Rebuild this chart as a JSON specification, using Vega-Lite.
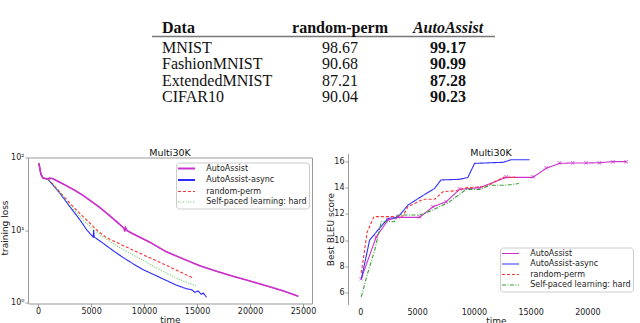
{
  "$schema": "https://vega.github.io/schema/vega-lite/v6.json",
  "padding": {"left": 0, "top": 19, "right": 0, "bottom": 0},
  "background": "white",
  "bounds": "flush",
  "spacing": 56.5,
  "resolve": {"scale": {"color": "independent", "strokeDash": "independent"}, "legend": {"color": "independent", "strokeDash": "independent"}},
  "config": {
    "view": {"stroke": null},
    "font": "DejaVu Sans",
    "axis": {"labelFont": "DejaVu Sans", "titleFont": "DejaVu Sans", "labelFontSize": 8, "titleFontSize": 9, "titleFontWeight": "normal", "labelColor": "#222", "titleColor": "#222", "domainColor": "#999", "tickColor": "#999", "grid": false, "tickSize": 3},
    "legend": {"labelFont": "DejaVu Sans", "labelFontSize": 8, "labelColor": "#222", "strokeColor": "#ccc", "fillColor": "white", "cornerRadius": 3, "padding": 2, "symbolType": "stroke", "symbolSize": 64, "symbolStrokeWidth": 1.2, "symbolOffset": 4.5, "rowPadding": 2.5, "labelOffset": 15.7, "labelLimit": 200},
    "title": {"font": "DejaVu Sans", "fontSize": 9.5, "fontWeight": "normal", "color": "#111"}
  },
  "datasets": {
    "header": [
      {"row": 0, "col": 0, "label": "Data"},
      {"row": 0, "col": 1, "label": "random-perm"},
      {"row": 0, "col": 2, "label": "AutoAssist"}
    ],
    "rows": [
      {"row": 1, "Data": "MNIST", "random-perm": 98.67, "AutoAssist": 99.17},
      {"row": 2, "Data": "FashionMNIST", "random-perm": 90.68, "AutoAssist": 90.99},
      {"row": 3, "Data": "ExtendedMNIST", "random-perm": 87.21, "AutoAssist": 87.28},
      {"row": 4, "Data": "CIFAR10", "random-perm": 90.04, "AutoAssist": 90.23}
    ]
  },
  "vconcat": [
    {
      "width": 467,
      "height": 66,
      "resolve": {"scale": {"y": "independent"}},
      "layer": [
        {
          "data": {"name": "header"},
          "transform": [{"filter": "datum.col == 0"}],
          "mark": {"type": "rule", "color": "#777", "strokeWidth": 1.3},
          "encoding": {
            "x": {"datum": -0.741, "type": "quantitative", "scale": {"domain": [-1.889, 2.435], "nice": false, "zero": false}, "axis": null},
            "x2": {"datum": 2.435},
            "y": {"field": "row", "type": "quantitative", "scale": {"domain": [-0.333, 3.667], "reverse": true, "nice": false, "zero": false}, "axis": null}
          }
        },
        {
          "data": {"name": "header"},
          "transform": [{"filter": "datum.col == 0"}],
          "mark": {"type": "text", "font": "Liberation Serif", "fontSize": 16, "fontWeight": "bold", "align": "left", "dx": -70, "dy": -3.5, "color": "#111"},
          "encoding": {"x": {"field": "col", "type": "quantitative"}, "y": {"field": "row", "type": "quantitative", "scale": {"domain": [0, 4], "reverse": true, "nice": false, "zero": false}, "axis": null}, "text": {"field": "label"}}
        },
        {
          "data": {"name": "header"},
          "transform": [{"filter": "datum.col == 1"}],
          "mark": {"type": "text", "font": "Liberation Serif", "fontSize": 16, "fontWeight": "bold", "align": "center", "dy": -3.5, "color": "#111"},
          "encoding": {"x": {"field": "col", "type": "quantitative"}, "y": {"field": "row", "type": "quantitative", "scale": {"domain": [0, 4], "reverse": true, "nice": false, "zero": false}, "axis": null}, "text": {"field": "label"}}
        },
        {
          "data": {"name": "header"},
          "transform": [{"filter": "datum.col == 2"}],
          "mark": {"type": "text", "font": "Liberation Serif", "fontSize": 16, "fontWeight": "bold", "fontStyle": "italic", "align": "center", "dy": -3.5, "color": "#111"},
          "encoding": {"x": {"field": "col", "type": "quantitative"}, "y": {"field": "row", "type": "quantitative", "scale": {"domain": [0, 4], "reverse": true, "nice": false, "zero": false}, "axis": null}, "text": {"field": "label"}}
        },
        {
          "data": {"name": "rows"},
          "mark": {"type": "text", "font": "Liberation Serif", "fontSize": 16, "align": "left", "dx": -70, "color": "#111"},
          "encoding": {"x": {"datum": 0, "type": "quantitative"}, "y": {"field": "row", "type": "quantitative", "scale": {"domain": [0, 4], "reverse": true, "nice": false, "zero": false}, "axis": null}, "text": {"field": "Data"}}
        },
        {
          "data": {"name": "rows"},
          "mark": {"type": "text", "font": "Liberation Serif", "fontSize": 16, "align": "center", "color": "#111"},
          "encoding": {"x": {"datum": 1, "type": "quantitative"}, "y": {"field": "row", "type": "quantitative", "scale": {"domain": [0, 4], "reverse": true, "nice": false, "zero": false}, "axis": null}, "text": {"field": "random-perm", "format": ".2f"}}
        },
        {
          "data": {"name": "rows"},
          "mark": {"type": "text", "font": "Liberation Serif", "fontSize": 16, "fontWeight": "bold", "align": "center", "color": "#111"},
          "encoding": {"x": {"datum": 2, "type": "quantitative"}, "y": {"field": "row", "type": "quantitative", "scale": {"domain": [0, 4], "reverse": true, "nice": false, "zero": false}, "axis": null}, "text": {"field": "AutoAssist", "format": ".2f"}}
        }
      ]
    },
    {
      "hconcat": [
        {
          "width": 284,
          "height": 150,
          "title": {"text": "Multi30K", "offset": 0, "dy": 4},
          "data": {"values": [
            {"series": "AutoAssist", "time": 80, "loss": 83},
            {"series": "AutoAssist", "time": 270, "loss": 59},
            {"series": "AutoAssist", "time": 460, "loss": 52},
            {"series": "AutoAssist", "time": 930, "loss": 50.5},
            {"series": "AutoAssist", "time": 1100, "loss": 52},
            {"series": "AutoAssist", "time": 1400, "loss": 51},
            {"series": "AutoAssist", "time": 2000, "loss": 46},
            {"series": "AutoAssist", "time": 2660, "loss": 41},
            {"series": "AutoAssist", "time": 3500, "loss": 35},
            {"series": "AutoAssist", "time": 4240, "loss": 30},
            {"series": "AutoAssist", "time": 5000, "loss": 25},
            {"series": "AutoAssist", "time": 5810, "loss": 20.5},
            {"series": "AutoAssist", "time": 6700, "loss": 16},
            {"series": "AutoAssist", "time": 7700, "loss": 12},
            {"series": "AutoAssist", "time": 8100, "loss": 10.6},
            {"series": "AutoAssist", "time": 8180, "loss": 9.6},
            {"series": "AutoAssist", "time": 8250, "loss": 10.8},
            {"series": "AutoAssist", "time": 8400, "loss": 9.8},
            {"series": "AutoAssist", "time": 9000, "loss": 8.8},
            {"series": "AutoAssist", "time": 10540, "loss": 6.8},
            {"series": "AutoAssist", "time": 12115, "loss": 5.0},
            {"series": "AutoAssist", "time": 13690, "loss": 4.0},
            {"series": "AutoAssist", "time": 15265, "loss": 3.21},
            {"series": "AutoAssist", "time": 16840, "loss": 2.7},
            {"series": "AutoAssist", "time": 18400, "loss": 2.3},
            {"series": "AutoAssist", "time": 20000, "loss": 1.98},
            {"series": "AutoAssist", "time": 21530, "loss": 1.7},
            {"series": "AutoAssist", "time": 23100, "loss": 1.45},
            {"series": "AutoAssist", "time": 24560, "loss": 1.22},
            {"series": "AutoAssist-async", "time": 80, "loss": 83},
            {"series": "AutoAssist-async", "time": 270, "loss": 59},
            {"series": "AutoAssist-async", "time": 460, "loss": 52},
            {"series": "AutoAssist-async", "time": 930, "loss": 50},
            {"series": "AutoAssist-async", "time": 2000, "loss": 33},
            {"series": "AutoAssist-async", "time": 3000, "loss": 21},
            {"series": "AutoAssist-async", "time": 4000, "loss": 13.5},
            {"series": "AutoAssist-async", "time": 4600, "loss": 10},
            {"series": "AutoAssist-async", "time": 5200, "loss": 8.0},
            {"series": "AutoAssist-async", "time": 5250, "loss": 10},
            {"series": "AutoAssist-async", "time": 5300, "loss": 8.0},
            {"series": "AutoAssist-async", "time": 6000, "loss": 6.8},
            {"series": "AutoAssist-async", "time": 7000, "loss": 5.3},
            {"series": "AutoAssist-async", "time": 8000, "loss": 4.2},
            {"series": "AutoAssist-async", "time": 9000, "loss": 3.4},
            {"series": "AutoAssist-async", "time": 10000, "loss": 2.8},
            {"series": "AutoAssist-async", "time": 11000, "loss": 2.4},
            {"series": "AutoAssist-async", "time": 12000, "loss": 2.05},
            {"series": "AutoAssist-async", "time": 13000, "loss": 1.75},
            {"series": "AutoAssist-async", "time": 14000, "loss": 1.55},
            {"series": "AutoAssist-async", "time": 14500, "loss": 1.5},
            {"series": "AutoAssist-async", "time": 14800, "loss": 1.38},
            {"series": "AutoAssist-async", "time": 15100, "loss": 1.45},
            {"series": "AutoAssist-async", "time": 15400, "loss": 1.3},
            {"series": "AutoAssist-async", "time": 15600, "loss": 1.35},
            {"series": "AutoAssist-async", "time": 15900, "loss": 1.18},
            {"series": "random-perm", "time": 80, "loss": 83},
            {"series": "random-perm", "time": 270, "loss": 59},
            {"series": "random-perm", "time": 460, "loss": 52},
            {"series": "random-perm", "time": 1000, "loss": 50},
            {"series": "random-perm", "time": 2000, "loss": 34},
            {"series": "random-perm", "time": 3000, "loss": 23.4},
            {"series": "random-perm", "time": 4000, "loss": 16.6},
            {"series": "random-perm", "time": 5000, "loss": 12},
            {"series": "random-perm", "time": 5600, "loss": 9.77},
            {"series": "random-perm", "time": 6500, "loss": 7.76},
            {"series": "random-perm", "time": 7700, "loss": 6.45},
            {"series": "random-perm", "time": 9000, "loss": 5.25},
            {"series": "random-perm", "time": 10500, "loss": 4.17},
            {"series": "random-perm", "time": 12000, "loss": 3.31},
            {"series": "random-perm", "time": 13300, "loss": 2.69},
            {"series": "random-perm", "time": 14600, "loss": 2.19},
            {"series": "Self-paced learning: hard", "time": 80, "loss": 83},
            {"series": "Self-paced learning: hard", "time": 270, "loss": 59},
            {"series": "Self-paced learning: hard", "time": 460, "loss": 52},
            {"series": "Self-paced learning: hard", "time": 1000, "loss": 50},
            {"series": "Self-paced learning: hard", "time": 2000, "loss": 34},
            {"series": "Self-paced learning: hard", "time": 3000, "loss": 22},
            {"series": "Self-paced learning: hard", "time": 4000, "loss": 15},
            {"series": "Self-paced learning: hard", "time": 5000, "loss": 10.8},
            {"series": "Self-paced learning: hard", "time": 6000, "loss": 8.3},
            {"series": "Self-paced learning: hard", "time": 7000, "loss": 6.6},
            {"series": "Self-paced learning: hard", "time": 8000, "loss": 5.4},
            {"series": "Self-paced learning: hard", "time": 9000, "loss": 4.5},
            {"series": "Self-paced learning: hard", "time": 10000, "loss": 3.75},
            {"series": "Self-paced learning: hard", "time": 11000, "loss": 3.1},
            {"series": "Self-paced learning: hard", "time": 12000, "loss": 2.6},
            {"series": "Self-paced learning: hard", "time": 13000, "loss": 2.2},
            {"series": "Self-paced learning: hard", "time": 14000, "loss": 1.9},
            {"series": "Self-paced learning: hard", "time": 14900, "loss": 1.7}
          ]},
          "resolve": {"scale": {"x": "independent", "y": "independent"}, "axis": {"x": "independent", "y": "independent"}},
          "layer": [
            {
              "mark": {"type": "line", "clip": true, "strokeWidth": 1.1},
              "encoding": {
                "x": {"field": "time", "type": "quantitative", "scale": {"domain": [-950, 25850], "nice": false, "zero": false},
                      "axis": {"orient": "bottom", "values": [0, 5000, 10000, 15000, 20000, 25000], "format": "d", "labelPadding": 1, "title": "time", "titlePadding": 0}},
                "y": {"field": "loss", "type": "quantitative", "scale": {"type": "log", "domain": [0.97, 100], "range": [150, 4], "nice": false},
                      "axis": {"orient": "left", "values": [1, 10, 100], "labelExpr": "datum.value == 1 ? '10⁰' : datum.value == 10 ? '10¹' : '10²'", "labelPadding": 1, "title": "training loss", "titleX": -24, "titleY": 74, "titleBaseline": "middle", "titleAlign": "center"}},
                "color": {"field": "series", "type": "nominal", "scale": {"domain": ["AutoAssist", "AutoAssist-async", "random-perm", "Self-paced learning: hard"], "range": ["#cc33cc", "#2b2bff", "#ff3030", "#66cc66"]},
                          "legend": {"title": null, "orient": "none", "legendX": 148, "legendY": 9,
                                     "encode": {"symbols": {"update": {
                                       "size": {"value": 290},
                                       "strokeWidth": {"signal": "datum.value == 'AutoAssist' ? 2 : datum.value == 'AutoAssist-async' ? 2.2 : 1"},
                                       "strokeDash": {"signal": "datum.value == 'random-perm' ? [3, 2] : datum.value == 'Self-paced learning: hard' ? [1, 1.5] : [1, 0]"}}}}}},
                "strokeDash": {"field": "series", "type": "nominal", "scale": {"domain": ["AutoAssist", "AutoAssist-async", "random-perm", "Self-paced learning: hard"], "range": [[1, 0], [1, 0], [3, 2], [1, 1.5]]}, "legend": null}
              }
            },
            {
              "transform": [{"filter": "datum.series == 'AutoAssist'"}],
              "mark": {"type": "line", "clip": true, "strokeWidth": 1.6, "color": "#cc33cc"},
              "encoding": {
                "x": {"field": "time", "type": "quantitative", "scale": {"domain": [-950, 25850], "nice": false, "zero": false}, "axis": {"orient": "top", "labels": false, "ticks": false, "title": null, "offset": -4}},
                "y": {"field": "loss", "type": "quantitative", "scale": {"type": "log", "domain": [0.97, 100], "range": [150, 4], "nice": false}, "axis": {"orient": "right", "labels": false, "ticks": false, "title": null}}
              }
            }
          ]
        },
        {
          "width": 296,
          "height": 151,
          "title": {"text": "Multi30K", "offset": 0, "dy": 4, "dx": -5},
          "data": {"values": [
            {"series": "AutoAssist", "time": 85, "bleu": 7.06},
            {"series": "AutoAssist", "time": 1406, "bleu": 10.25},
            {"series": "AutoAssist", "time": 2432, "bleu": 11.53},
            {"series": "AutoAssist", "time": 3313, "bleu": 11.74},
            {"series": "AutoAssist", "time": 5220, "bleu": 11.74},
            {"series": "AutoAssist", "time": 6394, "bleu": 12.55},
            {"series": "AutoAssist", "time": 7568, "bleu": 12.94},
            {"series": "AutoAssist", "time": 8741, "bleu": 13.88},
            {"series": "AutoAssist", "time": 10502, "bleu": 14.01},
            {"series": "AutoAssist", "time": 12850, "bleu": 14.8},
            {"series": "AutoAssist", "time": 15198, "bleu": 14.8},
            {"series": "AutoAssist", "time": 16370, "bleu": 15.49},
            {"series": "AutoAssist", "time": 17544, "bleu": 15.87},
            {"series": "AutoAssist", "time": 18700, "bleu": 15.9},
            {"series": "AutoAssist", "time": 19900, "bleu": 15.9},
            {"series": "AutoAssist", "time": 21065, "bleu": 15.92},
            {"series": "AutoAssist", "time": 22239, "bleu": 16.0},
            {"series": "AutoAssist", "time": 23413, "bleu": 16.0},
            {"series": "AutoAssist-async", "time": 85, "bleu": 7.0},
            {"series": "AutoAssist-async", "time": 819, "bleu": 10.0},
            {"series": "AutoAssist-async", "time": 1552, "bleu": 10.77},
            {"series": "AutoAssist-async", "time": 2432, "bleu": 11.66},
            {"series": "AutoAssist-async", "time": 3313, "bleu": 11.74},
            {"series": "AutoAssist-async", "time": 4193, "bleu": 12.68},
            {"series": "AutoAssist-async", "time": 5500, "bleu": 13.4},
            {"series": "AutoAssist-async", "time": 6540, "bleu": 13.95},
            {"series": "AutoAssist-async", "time": 7100, "bleu": 14.6},
            {"series": "AutoAssist-async", "time": 8741, "bleu": 14.65},
            {"series": "AutoAssist-async", "time": 9475, "bleu": 14.8},
            {"series": "AutoAssist-async", "time": 10062, "bleu": 15.87},
            {"series": "AutoAssist-async", "time": 12557, "bleu": 15.95},
            {"series": "AutoAssist-async", "time": 13290, "bleu": 16.15},
            {"series": "AutoAssist-async", "time": 14903, "bleu": 16.15},
            {"series": "random-perm", "time": 85, "bleu": 7.5},
            {"series": "random-perm", "time": 600, "bleu": 10.6},
            {"series": "random-perm", "time": 1200, "bleu": 11.8},
            {"series": "random-perm", "time": 3300, "bleu": 11.8},
            {"series": "random-perm", "time": 3753, "bleu": 11.84},
            {"series": "random-perm", "time": 4193, "bleu": 12.55},
            {"series": "random-perm", "time": 5513, "bleu": 13.12},
            {"series": "random-perm", "time": 6540, "bleu": 13.12},
            {"series": "random-perm", "time": 7274, "bleu": 13.7},
            {"series": "random-perm", "time": 8448, "bleu": 13.78},
            {"series": "random-perm", "time": 9328, "bleu": 14.01},
            {"series": "random-perm", "time": 11089, "bleu": 14.09},
            {"series": "random-perm", "time": 12557, "bleu": 14.8},
            {"series": "random-perm", "time": 13730, "bleu": 14.8},
            {"series": "Self-paced learning: hard", "time": 85, "bleu": 5.66},
            {"series": "Self-paced learning: hard", "time": 642, "bleu": 7.46},
            {"series": "Self-paced learning: hard", "time": 1258, "bleu": 9.2},
            {"series": "Self-paced learning: hard", "time": 1846, "bleu": 11.4},
            {"series": "Self-paced learning: hard", "time": 3000, "bleu": 11.4},
            {"series": "Self-paced learning: hard", "time": 3313, "bleu": 11.92},
            {"series": "Self-paced learning: hard", "time": 5220, "bleu": 11.92},
            {"series": "Self-paced learning: hard", "time": 6394, "bleu": 12.3},
            {"series": "Self-paced learning: hard", "time": 7861, "bleu": 12.94},
            {"series": "Self-paced learning: hard", "time": 9328, "bleu": 13.88},
            {"series": "Self-paced learning: hard", "time": 10502, "bleu": 13.88},
            {"series": "Self-paced learning: hard", "time": 11383, "bleu": 14.2},
            {"series": "Self-paced learning: hard", "time": 12850, "bleu": 14.2},
            {"series": "Self-paced learning: hard", "time": 13964, "bleu": 14.33}
          ]},
          "resolve": {"scale": {"x": "independent", "y": "independent"}, "axis": {"x": "independent", "y": "independent"}},
          "layer": [
            {
              "mark": {"type": "line", "strokeWidth": 1.1},
              "encoding": {
                "x": {"field": "time", "type": "quantitative", "scale": {"domain": [-1085, 24985], "nice": false, "zero": false},
                      "axis": {"values": [0, 5000, 10000, 15000, 20000], "format": "d", "domain": false, "ticks": false, "labelPadding": 4, "title": "time", "titlePadding": 0}},
                "y": {"field": "bleu", "type": "quantitative", "scale": {"domain": [5.075, 16.625], "nice": false, "zero": false},
                      "axis": {"values": [6, 8, 10, 12, 14, 16], "labelPadding": 1, "title": "Best BLEU score", "titleX": -18, "titleBaseline": "middle"}},
                "color": {"field": "series", "type": "nominal", "scale": {"domain": ["AutoAssist", "AutoAssist-async", "random-perm", "Self-paced learning: hard"], "range": ["#cc33cc", "#3333ff", "#ff3030", "#33a033"]},
                          "legend": {"title": null, "orient": "none", "legendX": 152, "legendY": 94,
                                     "encode": {"symbols": {"update": {
                                       "size": {"value": 290},
                                       "strokeWidth": {"signal": "datum.value == 'AutoAssist' ? 1.2 : 1.1"},
                                       "strokeDash": {"signal": "datum.value == 'random-perm' ? [3, 2] : datum.value == 'Self-paced learning: hard' ? [4, 1.5, 1, 1.5] : [1, 0]"}}}}}},
                "strokeDash": {"field": "series", "type": "nominal", "scale": {"domain": ["AutoAssist", "AutoAssist-async", "random-perm", "Self-paced learning: hard"], "range": [[1, 0], [1, 0], [3, 2], [4, 1.5, 1, 1.5]]}, "legend": null}
              }
            },
            {
              "transform": [{"filter": "datum.series == 'AutoAssist'"}],
              "mark": {"type": "text", "text": "×", "fontSize": 7, "color": "#cc33cc", "baseline": "middle", "align": "center"},
              "encoding": {
                "x": {"field": "time", "type": "quantitative", "scale": {"domain": [-1085, 24985], "nice": false, "zero": false}, "axis": null},
                "y": {"field": "bleu", "type": "quantitative", "scale": {"domain": [5.075, 16.625], "nice": false, "zero": false}, "axis": null}
              }
            }
          ]
        }
      ],
      "spacing": 36,
      "bounds": "flush",
      "resolve": {"scale": {"color": "independent", "strokeDash": "independent"}, "legend": {"color": "independent", "strokeDash": "independent"}}
    }
  ]
}
